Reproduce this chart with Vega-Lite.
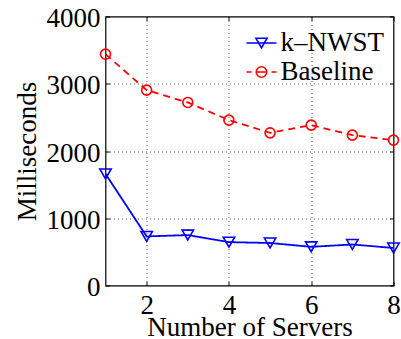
{
  "$schema": "https://vega.github.io/schema/vega-lite/v6.json",
  "width": 288,
  "height": 269,
  "autosize": {"type": "none"},
  "padding": {"left": 105.5, "top": 16.5, "right": 7.5, "bottom": 53.5},
  "background": "white",
  "config": {
    "font": "Liberation Serif",
    "view": {"stroke": "black", "strokeWidth": 1.2},
    "axis": {
      "labelFont": "Liberation Serif",
      "labelFontSize": 27,
      "labelColor": "black",
      "titleFont": "Liberation Serif",
      "titleFontSize": 27,
      "titleFontWeight": "normal",
      "titleColor": "black",
      "domain": false,
      "tickColor": "black",
      "tickSize": -4,
      "tickWidth": 1,
      "grid": true,
      "gridColor": "#555555",
      "gridDash": [1, 3],
      "gridWidth": 1,
      "gridOpacity": 0.9
    },
    "legend": {
      "labelFont": "Liberation Serif",
      "labelFontSize": 27,
      "labelColor": "black"
    }
  },
  "data": {
    "values": [
      {"x": 1, "y": 1660, "series": "k–NWST"},
      {"x": 2, "y": 730, "series": "k–NWST"},
      {"x": 3, "y": 750, "series": "k–NWST"},
      {"x": 4, "y": 645, "series": "k–NWST"},
      {"x": 5, "y": 632, "series": "k–NWST"},
      {"x": 6, "y": 575, "series": "k–NWST"},
      {"x": 7, "y": 610, "series": "k–NWST"},
      {"x": 8, "y": 558, "series": "k–NWST"},
      {"x": 1, "y": 3440, "series": "Baseline"},
      {"x": 2, "y": 2905, "series": "Baseline"},
      {"x": 3, "y": 2722, "series": "Baseline"},
      {"x": 4, "y": 2459, "series": "Baseline"},
      {"x": 5, "y": 2270, "series": "Baseline"},
      {"x": 6, "y": 2385, "series": "Baseline"},
      {"x": 7, "y": 2236, "series": "Baseline"},
      {"x": 8, "y": 2162, "series": "Baseline"}
    ]
  },
  "layer": [
    {
      "encoding": {
        "x": {
          "field": "x", "type": "quantitative",
          "scale": {"domain": [1, 8], "nice": false, "zero": false},
          "axis": {
            "title": "Number of Servers",
            "values": [2, 4, 6, 8],
            "format": "d",
            "labelPadding": 10.5,
            "labelFlush": false,
            "titleBaseline": "alphabetic",
            "titleY": 50
          }
        },
        "y": {
          "field": "y", "type": "quantitative",
          "scale": {"domain": [0, 4000], "nice": false},
          "axis": {
            "title": "Milliseconds",
            "values": [0, 1000, 2000, 3000, 4000],
            "format": "d",
            "labelPadding": 9.5,
            "labelFlush": false,
            "labelOffset": 2,
            "titleBaseline": "alphabetic",
            "titleX": -70
          }
        },
        "color": {
          "field": "series", "type": "nominal",
          "scale": {"domain": ["k–NWST", "Baseline"], "range": ["#0000ff", "#ff0000"]},
          "legend": null
        }
      },
      "layer": [
        {
          "mark": {"type": "line", "strokeWidth": 1.8},
          "encoding": {
            "strokeDash": {
              "field": "series", "type": "nominal",
              "scale": {"domain": ["k–NWST", "Baseline"], "range": [[1, 0], [7, 5]]},
              "legend": null
            }
          }
        },
        {
          "mark": {"type": "point", "filled": false, "strokeWidth": 1.6, "opacity": 1},
          "encoding": {
            "shape": {
              "field": "series", "type": "nominal",
              "scale": {"domain": ["k–NWST", "Baseline"], "range": ["triangle-down", "circle"]},
              "legend": null
            },
            "size": {
              "field": "series", "type": "nominal",
              "scale": {"domain": ["k–NWST", "Baseline"], "range": [130, 100]},
              "legend": null
            }
          }
        }
      ]
    },
    {
      "transform": [{"filter": "false"}],
      "mark": {"type": "point", "filled": false, "opacity": 1, "strokeWidth": 1.6},
      "encoding": {
        "x": {
          "field": "x", "type": "quantitative",
          "scale": {"domain": [1, 8], "nice": false, "zero": false},
          "axis": {"orient": "top", "labels": false, "grid": false, "title": null, "values": [2, 4, 6, 8]}
        },
        "y": {
          "field": "y", "type": "quantitative",
          "scale": {"domain": [0, 4000], "nice": false},
          "axis": {"orient": "right", "labels": false, "grid": false, "title": null, "values": [0, 1000, 2000, 3000, 4000]}
        },
        "stroke": {
          "field": "series", "type": "nominal",
          "scale": {"domain": ["k–NWST", "Baseline"], "range": ["#0000ff", "#ff0000"]},
          "legend": {
            "title": null,
            "orient": "none",
            "legendX": 140,
            "legendY": 10.5,
            "padding": 0,
            "rowPadding": 0,
            "symbolSize": 900,
            "symbolStrokeWidth": 1.6,
            "symbolOpacity": 1,
            "labelOffset": 3
          }
        },
        "shape": {
          "field": "series", "type": "nominal",
          "scale": {
            "domain": ["k–NWST", "Baseline"],
            "range": [
              "M-1,0H1M-0.37,-0.32L0.37,-0.32L0,0.32Z",
              "M-1,0H-0.67M-0.33,0H0.33M0.67,0H1M0.35,0A0.35,0.35,0,1,1,-0.35,0A0.35,0.35,0,1,1,0.35,0Z"
            ]
          },
          "legend": {
            "title": null,
            "orient": "none",
            "legendX": 140,
            "legendY": 10.5,
            "padding": 0,
            "rowPadding": 0,
            "symbolSize": 900,
            "symbolStrokeWidth": 1.6,
            "symbolOpacity": 1,
            "labelOffset": 3
          }
        }
      }
    }
  ],
  "resolve": {
    "scale": {"x": "independent", "y": "independent", "shape": "independent", "stroke": "independent"},
    "axis": {"x": "independent", "y": "independent"}
  }
}
